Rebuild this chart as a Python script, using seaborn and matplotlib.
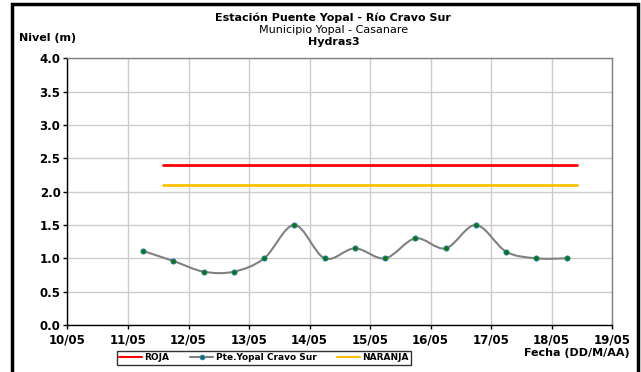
import matplotlib
matplotlib.use("Agg")
import matplotlib.pyplot as plt
import matplotlib.dates as mdates
from matplotlib.path import Path
from matplotlib.patches import PathPatch, Rectangle
from matplotlib.lines import Line2D
import seaborn as sns
import numpy as np
import pandas as pd

# datos
fechas = pd.to_datetime([
    "2011-05-11 06:00", "2011-05-11 18:00", "2011-05-12 06:00", "2011-05-12 18:00",
    "2011-05-13 06:00", "2011-05-13 18:00", "2011-05-14 06:00", "2011-05-14 18:00",
    "2011-05-15 06:00", "2011-05-15 18:00", "2011-05-16 06:00", "2011-05-16 18:00",
    "2011-05-17 06:00", "2011-05-17 18:00", "2011-05-18 06:00",
])
nivel = [1.11, 0.96, 0.80, 0.80, 1.00, 1.50, 1.00, 1.15, 1.00, 1.30, 1.15, 1.50, 1.10, 1.00, 1.00]

umbral_fechas = pd.to_datetime(["2011-05-11 14:00", "2011-05-18 10:00"])
roja = [2.4, 2.4]
naranja = [2.1, 2.1]

ticks_x = pd.date_range("2011-05-10", "2011-05-19", freq="D")
ticks_y = [0.0, 0.5, 1.0, 1.5, 2.0, 2.5, 3.0, 3.5, 4.0]

ROJO = "#FF0000"
AMARILLO = "#FFC000"
GRIS = "#808080"
VERDE = "#008000"


def smooth_path(x, y):
    # curva suavizada tipo Excel (bezier con tangentes catmull-rom)
    pts = np.column_stack([x, y])
    verts = [pts[0]]
    codes = [Path.MOVETO]
    n = len(pts)
    for i in range(n - 1):
        p0 = pts[i - 1] if i > 0 else pts[i]
        p1 = pts[i]
        p2 = pts[i + 1]
        p3 = pts[i + 2] if i + 2 < n else pts[i + 1]
        c1 = p1 + (p2 - p0) / 6.0
        c2 = p2 - (p3 - p1) / 6.0
        verts += [c1, c2, p2]
        codes += [Path.CURVE4] * 3
    return Path(verts, codes)


sns.set_theme(style="white")
plt.rcParams["font.family"] = ["DejaVu Sans"]
plt.rcParams["font.weight"] = "bold"
plt.rcParams["text.color"] = "black"
plt.rcParams["xtick.color"] = "black"
plt.rcParams["ytick.color"] = "black"

fig = plt.figure(figsize=(6.41, 3.72), dpi=100)
ax = fig.add_axes([0.1053, 0.1263, 0.8495, 0.717])

df = pd.DataFrame({"fecha": fechas, "nivel": nivel})
df_u = pd.DataFrame({"fecha": umbral_fechas, "roja": roja, "naranja": naranja})

sns.lineplot(data=df_u, x="fecha", y="roja", ax=ax, color=ROJO, linewidth=2, zorder=3)
sns.lineplot(data=df_u, x="fecha", y="naranja", ax=ax, color=AMARILLO, linewidth=2, zorder=3)

xs = mdates.date2num(df["fecha"])
ax.add_patch(PathPatch(smooth_path(xs, df["nivel"].values), facecolor="none",
                       edgecolor=GRIS, linewidth=1.5, zorder=4))
sns.scatterplot(data=df, x="fecha", y="nivel", ax=ax, color=VERDE, s=14,
                edgecolor="#3070C0", linewidth=0.6, zorder=5)

ax.set_xlim(ticks_x[0], ticks_x[-1])
ax.set_ylim(0, 4)
ax.set_xticks(ticks_x)
ax.xaxis.set_major_formatter(mdates.DateFormatter("%d/%m"))
ax.set_yticks(ticks_y)
ax.set_yticklabels([f"{v:.1f}" for v in ticks_y])
ax.set_xlabel("")
ax.set_ylabel("")
ax.grid(True, color="#CCCCCC", linewidth=1)
ax.set_axisbelow(True)
ax.tick_params(axis="both", direction="out", length=3, width=1, color="black",
               labelcolor="black", labelsize=8.5, pad=2, left=True, bottom=True)
ax.tick_params(axis="x", pad=3)
for lab in ax.get_xticklabels() + ax.get_yticklabels():
    lab.set_fontweight("bold")
ax.spines["left"].set_color("black")
ax.spines["bottom"].set_color("black")
ax.spines["top"].set_color(GRIS)
ax.spines["right"].set_color(GRIS)
for s in ax.spines.values():
    s.set_linewidth(1)

fig.text(0.52, 0.952, "Estación Puente Yopal - Río Cravo Sur", ha="center", va="center",
         fontsize=8, fontweight="bold", color="black")
fig.text(0.52, 0.920, "Municipio Yopal - Casanare", ha="center", va="center",
         fontsize=8, fontweight="normal", color="black")
fig.text(0.52, 0.888, "Hydras3", ha="center", va="center", fontsize=8, fontweight="bold",
         color="black")
fig.text(0.029, 0.898, "Nivel (m)", ha="left", va="center", fontsize=8, fontweight="bold",
         color="black")
fig.text(0.983, 0.052, "Fecha (DD/M/AA)", ha="right", va="center", fontsize=8,
         fontweight="bold", color="black")

handles = [
    Line2D([], [], color=ROJO, linewidth=1.5),
    Line2D([], [], color=GRIS, linewidth=1.5, marker="o", markersize=3,
           markerfacecolor=VERDE, markeredgecolor="#3070C0"),
    Line2D([], [], color=AMARILLO, linewidth=1.5),
]
leg = fig.legend(handles, ["ROJA", "Pte.Yopal Cravo Sur", "NARANJA"], ncol=3,
                 loc="center", bbox_to_anchor=(0.412, 0.038), frameon=True, fancybox=False,
                 prop={"size": 6.5, "weight": "bold"}, handlelength=2.5, handletextpad=0.3,
                 columnspacing=2.3, borderpad=0.25)
leg.get_frame().set_edgecolor("black")
leg.get_frame().set_linewidth(1)
for t in leg.get_texts():
    t.set_color("black")

# marco exterior (sin borde inferior visible)
fig.patches.append(Rectangle((0.0195, -0.05), 0.976, 1.04, transform=fig.transFigure,
                             fill=False, edgecolor="black", linewidth=2.5))

fig.savefig("out.png", dpi=100)
